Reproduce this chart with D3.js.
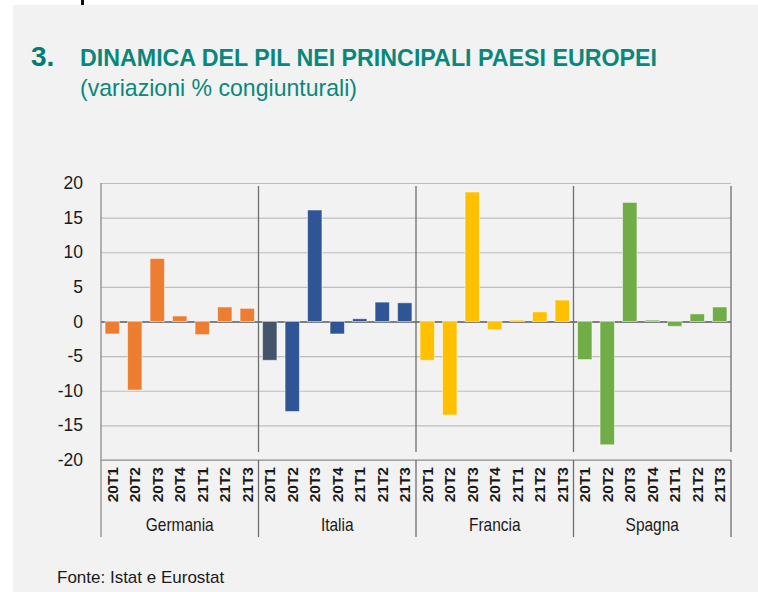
<!DOCTYPE html>
<html>
<head>
<meta charset="utf-8">
<script src="https://cdn.jsdelivr.net/npm/d3@7"></script>
<style>
  body { margin: 0; background: #fff; }
  text { font-family: "Liberation Sans", Arial, sans-serif; }
</style>
</head>
<body>
<div class="chart"></div>
<script>
const countries = ['Germania', 'Italia', 'Francia', 'Spagna'];
const quarters = ['20T1', '20T2', '20T3', '20T4', '21T1', '21T2', '21T3'];
const germania = [-1.8, -9.9, 9.1, 0.8, -1.9, 2.1, 1.9];
const italia = [-5.6, -13.0, 16.1, -1.8, 0.4, 2.8, 2.7];
const francia = [-5.6, -13.5, 18.7, -1.2, 0.2, 1.4, 3.1];
const spagna = [-5.5, -17.8, 17.2, 0.2, -0.7, 1.1, 2.1];
const yTicks = [-20, -15, -10, -5, 0, 5, 10, 15, 20];
const colors = ['#ed7d31', '#2f5597', '#ffc000', '#70ad47'];
const highlight = { country: 'Italia', quarter: '20T1', color: '#44546a' };

const seriesByCountry = [germania, italia, francia, spagna];

const data = [];
countries.forEach((c, i) => {
  quarters.forEach((q, j) => {
    data.push({ country: c, quarter: q, value: seriesByCountry[i][j] });
  });
});

const W = 758, H = 592;
const margin = { top: 183, right: 27, bottom: 132, left: 101 };
const width = W - margin.left - margin.right;
const height = H - margin.top - margin.bottom;

const svg = d3.select('.chart')
  .append('svg')
  .attr('width', W)
  .attr('height', H);

// panel background
svg.append('rect')
  .attr('x', 13).attr('y', 5)
  .attr('width', W - 13).attr('height', H - 5)
  .attr('fill', '#f2f2f2');

svg.append('rect')
  .attr('x', 81).attr('y', 0)
  .attr('width', 3).attr('height', 5)
  .attr('fill', '#111');

// titles
svg.append('text')
  .attr('x', 31).attr('y', 66)
  .attr('fill', '#007e74')
  .style('font-size', '28px')
  .style('font-weight', 'bold')
  .text('3.');

svg.append('text')
  .attr('x', 80).attr('y', 66)
  .attr('fill', '#0a877c')
  .attr('textLength', 577)
  .attr('lengthAdjust', 'spacingAndGlyphs')
  .style('font-family', '"Liberation Sans Narrow", "Liberation Sans", sans-serif')
  .style('font-size', '24px')
  .style('font-weight', 'bold')
  .text('DINAMICA DEL PIL NEI PRINCIPALI PAESI EUROPEI');

svg.append('text')
  .attr('x', 80).attr('y', 96)
  .attr('fill', '#0a877c')
  .attr('textLength', 277)
  .attr('lengthAdjust', 'spacingAndGlyphs')
  .style('font-size', '24px')
  .text('(variazioni % congiunturali)');

const g = svg.append('g')
  .attr('transform', `translate(${margin.left}, ${margin.top})`);

const y = d3.scaleLinear().domain([-20, 20]).range([277, 0]);

const x0 = d3.scaleBand().domain(countries).range([0, width]);
const x1 = d3.scaleBand().domain(quarters).range([0, x0.bandwidth()])
  .paddingInner(0.36).paddingOuter(0.18);

// gridlines
const yAxis = d3.axisLeft(y)
  .tickValues(yTicks)
  .tickSize(-width)
  .tickPadding(18)
  .tickFormat(d => d + '');

g.append('g')
  .attr('class', 'axis y-axis')
  .call(yAxis)
  .call(s => s.select('.domain').remove())
  .call(s => s.selectAll('line')
    .attr('stroke', d => d === 0 ? '#595959' : '#bdbdbd')
    .attr('stroke-width', d => d === 0 ? 1.3 : 1.2))
  .call(s => s.selectAll('text')
    .attr('fill', '#1a1a1a')
    .style('font-size', '17.5px'));

// left axis line
g.append('line')
  .attr('x1', 0).attr('x2', 0)
  .attr('y1', 0).attr('y2', 354)
  .attr('stroke', '#8c8c8c')
  .attr('stroke-width', 1.3);

// group separators in plot
g.selectAll('.sep')
  .data(countries.slice(1).concat(['end']))
  .join('line')
  .attr('class', 'sep')
  .attr('x1', d => d === 'end' ? width : x0(d))
  .attr('x2', d => d === 'end' ? width : x0(d))
  .attr('y1', 3).attr('y2', 269)
  .attr('stroke', '#6f6f6f')
  .attr('stroke-width', 1.3);

// bars
const groups = g.selectAll('.country')
  .data(countries)
  .join('g')
  .attr('class', 'country')
  .attr('transform', d => `translate(${x0(d)},0)`);

groups.selectAll('rect')
  .data(c => data.filter(d => d.country === c))
  .join('rect')
  .attr('x', d => x1(d.quarter))
  .attr('width', x1.bandwidth())
  .attr('y', d => y(Math.max(0, d.value)))
  .attr('height', d => Math.abs(y(d.value) - y(0)))
  .attr('fill', d => (d.country === highlight.country && d.quarter === highlight.quarter)
    ? highlight.color : colors[countries.indexOf(d.country)])
  .attr('stroke', '#ffffff')
  .attr('stroke-opacity', 0.5)
  .attr('stroke-width', 1);

// category axis box
const axisG = g.append('g')
  .attr('transform', `translate(0, ${y(-20)})`);

axisG.append('line')
  .attr('x1', 0).attr('x2', width)
  .attr('y1', 0).attr('y2', 0)
  .attr('stroke', '#8c8c8c')
  .attr('stroke-width', 1.2);

axisG.selectAll('.bsep')
  .data(countries.slice(1).concat(['end']))
  .join('line')
  .attr('class', 'bsep')
  .attr('x1', d => d === 'end' ? width : x0(d))
  .attr('x2', d => d === 'end' ? width : x0(d))
  .attr('y1', 0).attr('y2', 77)
  .attr('stroke', '#6f6f6f')
  .attr('stroke-width', 1.3);

countries.forEach(c => {
  axisG.selectAll(null)
    .data(quarters)
    .join('text')
    .attr('transform', q => `translate(${x0(c) + x1(q) + x1.bandwidth() / 2}, 7) rotate(-90)`)
    .attr('text-anchor', 'end')
    .attr('dy', '0.36em')
    .attr('fill', '#1a1a1a')
    .style('font-size', '15.5px')
    .style('font-weight', 'bold')
    .text(q => q);
});

axisG.selectAll('.cat')
  .data(countries)
  .join('text')
  .attr('class', 'cat')
  .attr('transform', d => `translate(${x0(d) + x0.bandwidth() / 2}, 71) scale(0.86, 1)`)
  .attr('text-anchor', 'middle')
  .attr('fill', '#1a1a1a')
  .style('font-size', '18px')
  .text(d => d);

// source
svg.append('text')
  .attr('x', 57).attr('y', 583)
  .attr('fill', '#1a1a1a')
  .style('font-size', '17px')
  .text('Fonte: Istat e Eurostat');
</script>
</body>
</html>
